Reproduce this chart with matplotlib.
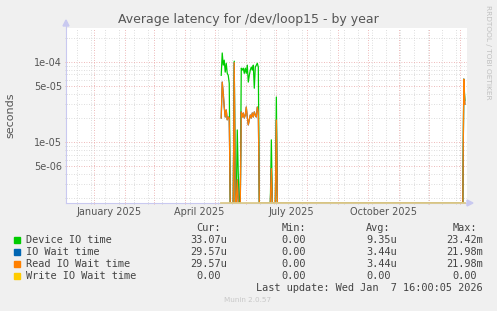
import numpy as np
import pandas as pd
import matplotlib
matplotlib.use('Agg')
import matplotlib.pyplot as plt
import matplotlib.dates as mdates
from matplotlib.patches import Polygon, Rectangle
from matplotlib.ticker import FixedLocator, NullFormatter, FixedFormatter

# ---- data (daily averages, seconds) ----
graph_start = pd.Timestamp('2024-12-03 16:00')
graph_end = pd.Timestamp('2026-01-07 16:00')
data_first = '2025-05-07'
data_last = '2026-01-05'

# days with non-zero latency; every other day inside the data range is 0
active_days = ['2025-05-07', '2025-05-08', '2025-05-09', '2025-05-10', '2025-05-11',
               '2025-05-12', '2025-05-13', '2025-05-14', '2025-05-15', '2025-05-20',
               '2025-05-23', '2025-05-24', '2025-05-27', '2025-05-28', '2025-05-29',
               '2025-05-30', '2025-05-31', '2025-06-01', '2025-06-02', '2025-06-03',
               '2025-06-04', '2025-06-05', '2025-06-06', '2025-06-07', '2025-06-08',
               '2025-06-09', '2025-06-10', '2025-06-11', '2025-06-12', '2025-06-13',
               '2025-06-26', '2025-07-01', '2026-01-04', '2026-01-05']
device_io = [6.8e-5, 1.29e-4, 9.1e-5, 1.05e-4, 7.45e-5, 9.6e-5, 7.2e-5, 6.8e-5, 5.4e-5, 1.02e-4,
             1.42e-5, 4.0e-6, 8.35e-5, 7.9e-5, 8.35e-5, 7.2e-5, 8.35e-5, 7.2e-5, 9.1e-5, 5.6e-5,
             6.8e-5, 7.9e-5, 8.6e-5, 7.9e-5, 9.1e-5, 4.7e-5, 8.6e-5, 9.1e-5, 9.6e-5, 8.6e-5,
             1.07e-5, 3.65e-5, 6.1e-5, 3.307e-5]
read_wait = [2.0e-5, 5.6e-5, 4.1e-5, 2.74e-5, 2.06e-5, 2.52e-5, 1.9e-5, 2.06e-5, 2.0e-5, 9.8e-5,
             3.4e-6, 0.0, 2.38e-5, 2.06e-5, 2.31e-5, 2.0e-5, 2.18e-5, 2.74e-5, 2.06e-5, 1.64e-5,
             1.89e-5, 2.18e-5, 2.0e-5, 2.31e-5, 2.06e-5, 2.38e-5, 2.18e-5, 2.06e-5, 2.74e-5, 2.38e-5,
             4.7e-6, 1.89e-5, 6.1e-5, 2.957e-5]
io_wait = list(read_wait)
write_wait = [0.0] * len(active_days)

series_names = ['Device IO time', 'IO Wait time', 'Read IO Wait time', 'Write IO Wait time']
series_colors = ['#00cc00', '#0066b3', '#ff8000', '#ffcc00']
cur_vals = ['33.07u', '29.57u', '29.57u', '0.00']
min_vals = ['0.00', '0.00', '0.00', '0.00']
avg_vals = ['9.35u', '3.44u', '3.44u', '0.00']
max_vals = ['23.42m', '21.98m', '21.98m', '0.00']

y_labels = ['5e-06', '1e-05', '5e-05', '1e-04']
y_major = [5e-6, 1e-5, 5e-5, 1e-4]
month_labels = ['January 2025', 'April 2025', 'July 2025', 'October 2025']
month_label_pos = ['2025-01-16', '2025-04-16', '2025-07-16', '2025-10-16']

YMIN, YMAX = 1.75e-6, 2.64e-4

W, H = 497, 311
fig = plt.figure(figsize=(W / 100, H / 100), dpi=100, facecolor='#f0f0f0')
ax = fig.add_axes([66 / W, 1 - 203 / H, 401 / W, 175 / H])
ax.set_facecolor('white')

days = pd.date_range(data_first, data_last, freq='D') + pd.Timedelta(hours=12)
idx = {d.strftime('%Y-%m-%d'): i for i, d in enumerate(days)}


def daily(values):
    out = np.zeros(len(days))
    for d, v in zip(active_days, values):
        out[idx[d]] = v
    return np.maximum(out, YMIN)  # zero is drawn on the bottom edge, like rrdtool


for vals, col in zip([device_io, io_wait, read_wait], series_colors[:3]):
    ax.plot(days, daily(vals), color=col, lw=0.9, zorder=3)
ax.plot(days, daily(write_wait), color='#dccb8c', lw=1.3,
        zorder=6, clip_on=False)

ax.set_yscale('log')
ax.set_ylim(YMIN, YMAX)
ax.set_xlim(graph_start, graph_end)

# grids
minor_y = [m * 10.0 ** e for e in (-6, -5, -4) for m in range(2, 10)
           if m != 5 and YMIN < m * 10.0 ** e < YMAX]
ax.yaxis.set_major_locator(FixedLocator(y_major))
ax.yaxis.set_major_formatter(FixedFormatter(y_labels))
ax.yaxis.set_minor_locator(FixedLocator(minor_y))
ax.yaxis.set_minor_formatter(NullFormatter())

ax.xaxis.set_major_locator(mdates.MonthLocator())
ax.xaxis.set_major_formatter(NullFormatter())
ax.xaxis.set_minor_locator(FixedLocator(mdates.date2num(
    pd.date_range('2024-12-15', '2026-01-07', freq='14D'))))

dots = (0, (1, 2))
ax.grid(True, which='minor', color='#d2d2d2', lw=0.6, ls=dots)
ax.grid(True, which='major', color='#e8a2a2', lw=0.6, ls=dots)
ax.set_axisbelow(True)
ax.tick_params(which='both', length=2, width=0.6, direction='inout')
ax.tick_params(which='major', colors='#e8a2a2', labelcolor='#555555', labelsize=7, pad=2)
ax.tick_params(which='minor', colors='#cccccc')

for s in ['top', 'right']:
    ax.spines[s].set_visible(False)
for s in ['left', 'bottom']:
    ax.spines[s].set_color('#c9c9f0')
    ax.spines[s].set_linewidth(0.8)

for lab, pos in zip(month_labels, month_label_pos):
    ax.text(pd.Timestamp(pos), -9 / 175, lab, transform=ax.get_xaxis_transform(),
            ha='center', va='center', fontsize=7, color='#555555')

# axis arrows
fig.add_artist(Polygon([[63 / W, 1 - 26 / H], [69 / W, 1 - 26 / H], [66 / W, 1 - 20 / H]],
                       closed=True, color='#c9c9f0', transform=fig.transFigure))
fig.add_artist(Polygon([[467 / W, 1 - 200 / H], [467 / W, 1 - 206 / H], [473 / W, 1 - 203 / H]],
                       closed=True, color='#c9c9f0', transform=fig.transFigure))
fig.add_artist(plt.Line2D([66 / W, 66 / W], [1 - 28 / H, 1 - 23 / H], color='#c9c9f0', lw=0.8))

fig.text(248 / W, 1 - 19 / H, 'Average latency for /dev/loop15 - by year',
         ha='center', va='center', fontsize=9, color='#555555')
fig.text(10 / W, 1 - 115 / H, 'seconds', rotation=90, ha='center', va='center',
         fontsize=8, color='#555555')
fig.text(488 / W, 1 - 5 / H, 'RRDTOOL / TOBI OETIKER', rotation=270, ha='center', va='top',
         fontsize=5.3, color='#c0c0c0')

# legend block
mono = dict(family='DejaVu Sans Mono', fontsize=7.4, color='#444444', va='center')
cw = 6.2
col_right = [227, 312, 397, 483]
for txt, xr in zip(['Cur:', 'Min:', 'Avg:', 'Max:'], col_right):
    fig.text((xr - cw) / W, 1 - 228 / H, txt, ha='right', **mono)
for i, name in enumerate(series_names):
    yy = 240 + 12 * i
    fig.add_artist(Rectangle((14 / W, 1 - (yy + 3) / H), 6 / W, 6 / H,
                             color=series_colors[i], transform=fig.transFigure))
    fig.text(26 / W, 1 - yy / H, name, ha='left', **mono)
    for vals, xr in zip([cur_vals, min_vals, avg_vals, max_vals], col_right):
        v = vals[i]
        shift = 0 if v[-1] in 'um' else cw
        fig.text((xr - shift) / W, 1 - yy / H, v, ha='right', **mono)
fig.text(483 / W, 1 - 288 / H, 'Last update: Wed Jan  7 16:00:05 2026', ha='right', **mono)
fig.text(248 / W, 1 - 300 / H, 'Munin 2.0.57', ha='center', va='center',
         fontsize=5.2, color='#c8c8c8')

fig.savefig('out.png', dpi=100, facecolor=fig.get_facecolor())
